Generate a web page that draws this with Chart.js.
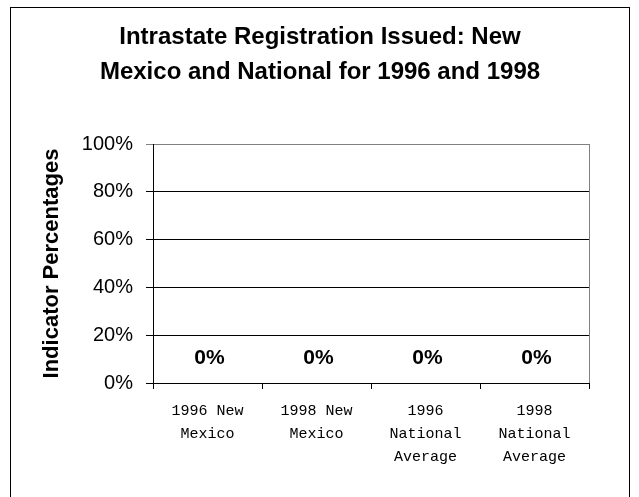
<!DOCTYPE html>
<html>
<head>
<meta charset="utf-8">
<script src="https://cdn.jsdelivr.net/npm/chart.js@4/dist/chart.umd.min.js"></script>
<style>
  html, body { margin: 0; padding: 0; background: #fff; }
  #wrap { width: 639px; height: 497px; }
</style>
</head>
<body>
<div id="wrap"><canvas id="chart" width="639" height="497"></canvas></div>
<script>
const titleLines = ['Intrastate Registration Issued: New', 'Mexico and National for 1996 and 1998'];
const categories = [
    ['1996 New', 'Mexico'],
    ['1998 New', 'Mexico'],
    ['1996', 'National', 'Average'],
    ['1998', 'National', 'Average']
];
const values = [0, 0, 0, 0];
const yTicks = [0, 20, 40, 60, 80, 100];
const yTitle = 'Indicator Percentages';

// frame round the picture, grey right edge of the plot, and the two title lines
const framePlugin = {
    id: 'frame',
    afterDraw(chart) {
        const ctx = chart.ctx;
        const a = chart.chartArea;
        ctx.save();
        ctx.strokeStyle = '#000';
        ctx.lineWidth = 1;
        ctx.strokeRect(10.5, 7.5, 619, 520);
        ctx.strokeStyle = '#808080';
        ctx.beginPath();
        ctx.moveTo(Math.round(a.right) + 0.5, a.top);
        ctx.lineTo(Math.round(a.right) + 0.5, a.bottom);
        ctx.stroke();

        ctx.fillStyle = '#000';
        ctx.font = 'bold 24px "Liberation Sans", Arial, sans-serif';
        ctx.textAlign = 'center';
        ctx.textBaseline = 'alphabetic';
        ctx.fillText(titleLines[0], 320, 44);
        ctx.fillText(titleLines[1], 320, 79);
        ctx.restore();
    }
};

// "0%" labels above each bar
const valueLabels = {
    id: 'valueLabels',
    afterDatasetsDraw(chart) {
        const ctx = chart.ctx;
        const meta = chart.getDatasetMeta(0);
        ctx.save();
        ctx.font = 'bold 21px "Liberation Sans", Arial, sans-serif';
        ctx.fillStyle = '#000';
        ctx.textAlign = 'center';
        ctx.textBaseline = 'middle';
        meta.data.forEach((bar, i) => {
            ctx.fillText(values[i] + '%', bar.x + 2, bar.y - 25);
        });
        ctx.restore();
    }
};

new Chart(document.getElementById('chart'), {
    type: 'bar',
    data: {
        labels: categories,
        datasets: [{
            data: values,
            backgroundColor: '#9999ff',
            borderColor: '#000',
            borderWidth: 1
        }]
    },
    options: {
        responsive: false,
        animation: false,
        layout: { padding: { left: 10, right: 50, top: 144, bottom: 0 } },
        plugins: {
            legend: { display: false },
            tooltip: { enabled: false },
            title: { display: false }
        },
        scales: {
            x: {
                grid: { display: true, drawOnChartArea: false, offset: true, color: '#000', tickLength: 6 },
                border: { color: '#000' },
                ticks: {
                    color: '#000',
                    padding: 10,
                    maxRotation: 0,
                    font: { family: '"Liberation Mono", "Courier New", monospace', size: 15, lineHeight: 1.55 }
                },
                afterFit(scale) { scale.height = 114; }
            },
            y: {
                min: 0,
                max: 100,
                afterBuildTicks(scale) { scale.ticks = yTicks.map(v => ({ value: v })); },
                grid: {
                    color: c => (c.tick && c.tick.value === 100 ? '#808080' : '#000'),
                    tickLength: 7
                },
                border: { color: '#000' },
                ticks: {
                    color: '#000',
                    padding: 13,
                    font: { family: '"Liberation Sans", Arial, sans-serif', size: 20 },
                    callback: v => v + '%'
                },
                title: {
                    display: true,
                    text: yTitle,
                    color: '#000',
                    font: { family: '"Liberation Sans", Arial, sans-serif', size: 22, weight: 'bold' },
                    padding: { top: 29, bottom: 0 }
                },
                afterFit(scale) { scale.width = 143; }
            }
        }
    },
    plugins: [framePlugin, valueLabels]
});
</script>
</body>
</html>
